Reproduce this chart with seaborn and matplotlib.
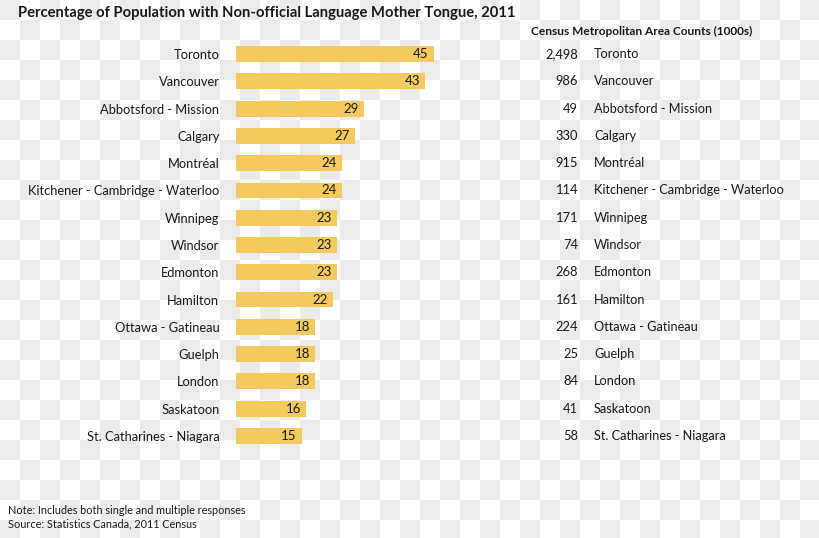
import numpy as np
import pandas as pd
import matplotlib
matplotlib.use("Agg")
import matplotlib.pyplot as plt
import matplotlib.transforms as mtransforms
import seaborn as sns

# ===============================
# DATA
# ===============================
cities = [
    "Toronto", "Vancouver", "Abbotsford - Mission", "Calgary", "Montréal",
    "Kitchener - Cambridge - Waterloo", "Winnipeg", "Windsor", "Edmonton",
    "Hamilton", "Ottawa - Gatineau", "Guelph", "London", "Saskatoon",
    "St. Catharines - Niagara",
]
pct_non_official = [45, 43, 29, 27, 24, 24, 23, 23, 23, 22, 18, 18, 18, 16, 15]
cma_counts = [2498, 986, 49, 330, 915, 114, 171, 74, 268, 161, 224, 25, 84, 41, 58]

title = "Percentage of Population with Non-official Language Mother Tongue, 2011"
table_header = "Census Metropolitan Area Counts (1000s)"
note_lines = ["Note: Includes both single and multiple responses",
              "Source: Statistics Canada, 2011 Census"]

df = pd.DataFrame({"city": cities, "pct": pct_non_official, "count": cma_counts})

BAR_COLOR = "#f4c95d"
TEXT_COLOR = "#1a1a1a"
W, H = 820, 538

sns.set_theme(style="white")
plt.rcParams["font.family"] = ["Lato", "DejaVu Sans"]

fig = plt.figure(figsize=(W / 100, H / 100), dpi=100)

# transparency-style checkerboard background
yy, xx = np.indices((H, W))
checker = ((xx // 20 + yy // 20) % 2 == 0)
bg = np.where(checker[..., None], np.array([235, 235, 235]), np.array([255, 255, 255]))
fig.figimage(bg.astype(np.uint8), xo=0, yo=0, origin="upper", zorder=-10)
fig.patch.set_alpha(0)

# bar axes: x from 236px to 500px, rows centred at 54..436px
ax = fig.add_axes([236 / W, 1 - 449.6 / H, 264 / W, 409.2 / H])
ax.patch.set_alpha(0)
sns.barplot(data=df, x="pct", y="city", color=BAR_COLOR, width=0.58,
            saturation=1, linewidth=0, ax=ax)
ax.set_xlim(0, 60)
ax.set_ylim(len(cities) - 0.5, -0.5)
ax.set_xlabel("")
ax.set_ylabel("")
ax.set_xticks([])
ax.tick_params(axis="y", length=0, pad=12, labelsize=9.25, labelcolor=TEXT_COLOR)
sns.despine(ax=ax, left=True, bottom=True)

for i, v in enumerate(df["pct"]):
    ax.text(v - 1.2, i, f"{v}", ha="right", va="center", fontsize=9.5,
            color=TEXT_COLOR)

# right-hand table aligned with the bar rows
trans = mtransforms.blended_transform_factory(fig.transFigure, ax.transData)
for i, (c, n) in enumerate(zip(df["city"], df["count"])):
    ax.text(578 / W, i, f"{n:,}", ha="right", va="center", fontsize=9.25,
            color=TEXT_COLOR, transform=trans)
    ax.text(594 / W, i, c, ha="left", va="center", fontsize=9.2,
            color=TEXT_COLOR, transform=trans)

fig.text(531 / W, 1 - 31 / H, table_header, ha="left", va="center",
         fontsize=8.6, fontweight="bold", color=TEXT_COLOR)
fig.text(18 / W, 1 - 13 / H, title, ha="left", va="center",
         fontsize=10.6, fontweight="bold", color=TEXT_COLOR)
fig.text(8 / W, 1 - 510 / H, note_lines[0], ha="left", va="center",
         fontsize=7.85, color=TEXT_COLOR)
fig.text(8 / W, 1 - 524 / H, note_lines[1], ha="left", va="center",
         fontsize=7.85, color=TEXT_COLOR)

fig.savefig("out.png", dpi=100)
